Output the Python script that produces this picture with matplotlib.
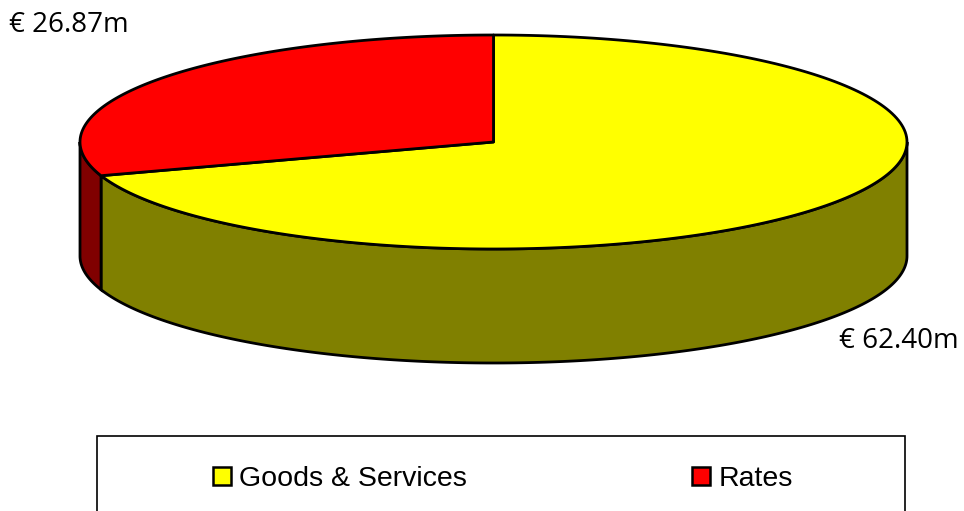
import numpy as np
import matplotlib.pyplot as plt
from matplotlib.patches import Polygon, Rectangle

# Data
labels = ["Goods & Services", "Rates"]
values = [62.40, 26.87]
top_colors = ["#FFFF00", "#FF0000"]
side_colors = ["#808000", "#800000"]
value_labels = [f"€ {v:.2f}m" for v in values]

# Pie geometry (pixels)
cx, cy = 493.5, 142
rx, ry = 413.5, 107
depth = 114

fig = plt.figure(figsize=(9.64, 5.11), dpi=100)
ax = fig.add_axes([0, 0, 1, 1])
ax.set_xlim(0, 964)
ax.set_ylim(511, 0)
ax.axis("off")


def ellipse_pts(t0, t1, dy=0, n=200):
    t = np.radians(np.linspace(t0, t1, n))
    return np.column_stack([cx + rx * np.cos(t), cy + dy - ry * np.sin(t)])


# slice angles: first slice starts at 12 o'clock going clockwise
fracs = np.array(values) / sum(values)
ends = 90 - 360 * np.cumsum(fracs)
starts = np.concatenate([[90], ends[:-1]])

# side walls (front half only)
for s, e, col in zip(starts, ends, side_colors):
    a0, a1 = e, s  # ccw order
    for lo, hi in [(-180, 0), (180, 360), (540, 720)]:
        b0, b1 = max(a0, lo), min(a1, hi)
        if b1 > b0:
            top = ellipse_pts(b0, b1)
            bot = ellipse_pts(b1, b0, dy=depth)
            ax.add_patch(Polygon(np.vstack([top, bot]), closed=True,
                                 facecolor=col, edgecolor="black", lw=2))

# top face
for s, e, col in zip(starts, ends, top_colors):
    arc = ellipse_pts(s, e)
    pts = np.vstack([[cx, cy], arc])
    ax.add_patch(Polygon(pts, closed=True, facecolor=col,
                         edgecolor="black", lw=2, joinstyle="round"))

# value labels
ax.text(69, 25, value_labels[1], fontsize=20, family="Open Sans",
        ha="center", va="center")
ax.text(899, 341, value_labels[0], fontsize=20, family="Open Sans",
        ha="center", va="center")

# legend
ax.add_patch(Rectangle((97, 436), 808, 100, facecolor="white",
                       edgecolor="black", lw=1.2))
handles = [Rectangle((0, 0), 1, 1, facecolor=c, edgecolor="black", lw=1.8)
           for c in top_colors]
leg = ax.legend(handles, labels, loc="center left",
                bbox_to_anchor=(213 / 964, 1 - 479 / 511), ncol=2,
                frameon=False, prop={"family": "Liberation Sans", "size": 20.5},
                handlelength=0.62, handleheight=0.62, handletextpad=0.3,
                columnspacing=7.9, borderpad=0, borderaxespad=0)

fig.savefig("out.png", dpi=100)
